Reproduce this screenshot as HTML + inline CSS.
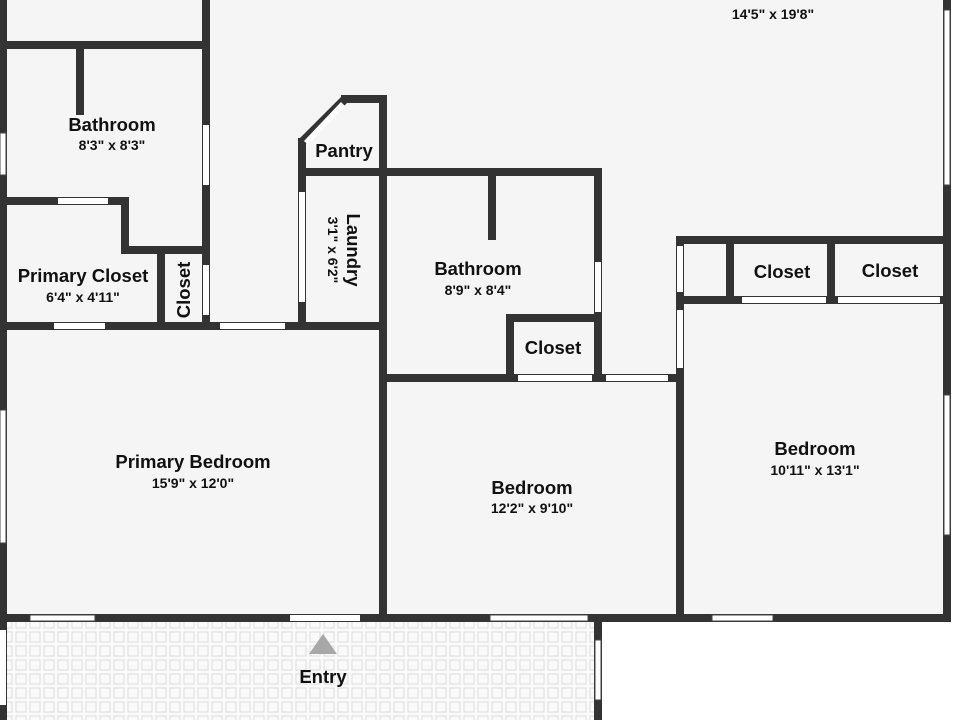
<!DOCTYPE html>
<html><head><meta charset="utf-8"><style>
html,body{margin:0;padding:0;width:960px;height:720px;overflow:hidden;background:#f5f5f5}
svg{display:block}
text{font-family:"Liberation Sans",sans-serif;fill:#111;text-anchor:middle}
.t{font-weight:bold;font-size:18.5px}
.d{font-size:14px;font-weight:bold}
</style></head><body>
<svg width="960" height="720" viewBox="0 0 960 720" xmlns="http://www.w3.org/2000/svg">
<defs>
<pattern id="tile" width="14" height="14" patternUnits="userSpaceOnUse">
<rect width="14" height="14" fill="#fafafa"/>
<rect x="2" y="2" width="10" height="10" fill="none" stroke="#dcdcdc" stroke-width="1"/>
</pattern>
</defs>
<rect width="960" height="720" fill="#f5f5f5"/>
<rect x="600" y="620" width="360" height="100" fill="#fff"/>
<rect x="951" y="0" width="9" height="620" fill="#fff"/>
<rect x="5" y="622" width="593" height="98" fill="url(#tile)"/>
<g fill="#333">
<rect x="0" y="0" width="7" height="720"/>
<rect x="202" y="0" width="8" height="330"/>
<rect x="0" y="41" width="210" height="8"/>
<rect x="76" y="45" width="8" height="70"/>
<rect x="0" y="197" width="129" height="8"/>
<rect x="121" y="197" width="8" height="57"/>
<rect x="121" y="246" width="89" height="8"/>
<rect x="157" y="246" width="8" height="84"/>
<rect x="0" y="322" width="387" height="8"/>
<rect x="298" y="138" width="8" height="192"/>
<polygon points="298,140 343,95 349,101 306,144"/>
<rect x="341" y="95" width="46" height="8"/>
<rect x="379" y="95" width="8" height="523"/>
<rect x="298" y="168" width="304" height="8"/>
<rect x="488" y="168" width="8" height="72"/>
<rect x="594" y="168" width="8" height="214"/>
<rect x="506" y="314" width="96" height="8"/>
<rect x="506" y="314" width="8" height="68"/>
<rect x="379" y="374" width="305" height="8"/>
<rect x="676" y="236" width="8" height="384"/>
<rect x="676" y="236" width="275" height="8"/>
<rect x="726" y="236" width="8" height="68"/>
<rect x="827" y="236" width="8" height="68"/>
<rect x="676" y="296" width="275" height="8"/>
<rect x="943" y="0" width="8" height="620"/>
<rect x="0" y="614" width="951" height="8"/>
<rect x="594" y="618" width="8" height="102"/>
</g>
<g fill="#fff">
<rect x="203" y="125" width="6" height="60"/>
<rect x="58" y="198" width="50" height="6"/>
<rect x="203" y="265" width="6" height="50"/>
<rect x="54" y="323" width="51" height="6"/>
<rect x="220" y="323" width="65" height="6"/>
<rect x="299" y="192" width="6" height="110"/>
<rect x="595" y="262" width="6" height="50"/>
<rect x="518" y="375" width="74" height="6"/>
<rect x="606" y="375" width="62" height="6"/>
<rect x="677" y="246" width="6" height="46"/>
<rect x="677" y="310" width="6" height="58"/>
<rect x="742" y="297" width="84" height="6"/>
<rect x="838" y="297" width="102" height="6"/>
<rect x="290" y="615" width="70" height="6"/>
<rect x="0" y="630" width="6" height="75"/>
</g>
<polygon points="304,141 341,102 345,106 308,145" fill="#fff"/>
<g fill="#fff" stroke="#444" stroke-width="1">
<rect x="30" y="615" width="65" height="6"/>
<rect x="490" y="615" width="98" height="6"/>
<rect x="712" y="615" width="61" height="6"/>
<rect x="0" y="410" width="6" height="133"/>
<rect x="0" y="133" width="6" height="42"/>
<rect x="944" y="10" width="6" height="175"/>
<rect x="944" y="395" width="6" height="140"/>
<rect x="595" y="640" width="6" height="60"/>
</g>
<polygon points="323,634 309,654 337,654" fill="#a8a8a8"/>
<text class="d" x="773" y="19">14'5" x 19'8"</text>
<text class="t" x="112" y="131">Bathroom</text>
<text class="d" x="112" y="150">8'3" x 8'3"</text>
<text class="t" x="344" y="157">Pantry</text>
<text class="t" x="83" y="282">Primary Closet</text>
<text class="d" x="83" y="302">6'4" x 4'11"</text>
<text class="t" transform="translate(190,290) rotate(-90)">Closet</text>
<text class="t" transform="translate(347,250) rotate(90)">Laundry</text>
<text class="d" transform="translate(328,250) rotate(90)">3'1" x 6'2"</text>
<text class="t" x="478" y="275">Bathroom</text>
<text class="d" x="478" y="295">8'9" x 8'4"</text>
<text class="t" x="553" y="354">Closet</text>
<text class="t" x="782" y="278">Closet</text>
<text class="t" x="890" y="277">Closet</text>
<text class="t" x="193" y="468">Primary Bedroom</text>
<text class="d" x="193" y="488">15'9" x 12'0"</text>
<text class="t" x="532" y="494">Bedroom</text>
<text class="d" x="532" y="513">12'2" x 9'10"</text>
<text class="t" x="815" y="455">Bedroom</text>
<text class="d" x="815" y="475">10'11" x 13'1"</text>
<text class="t" x="323" y="683">Entry</text>
</svg>
</body></html>
